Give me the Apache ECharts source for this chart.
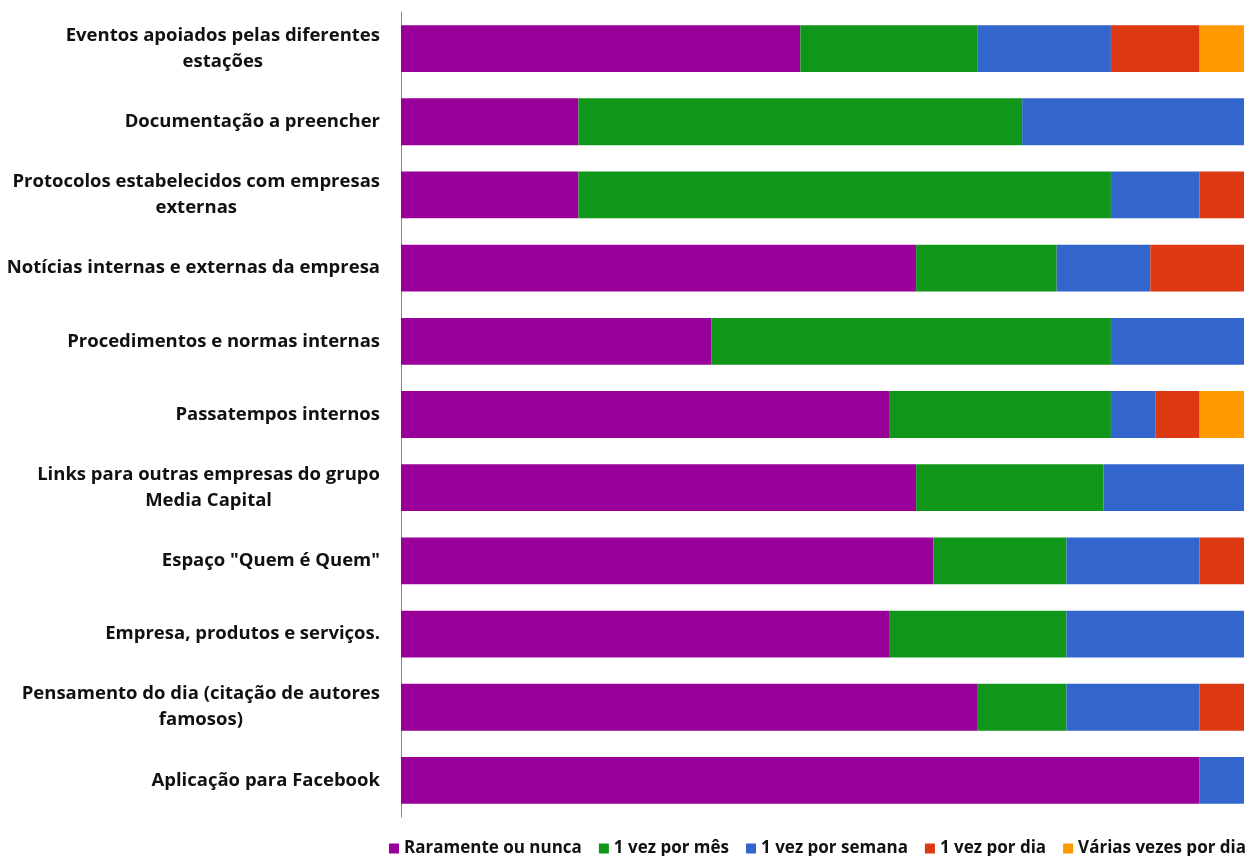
<!DOCTYPE html>
<html style="height: 100%">
<head>
    <meta charset="utf-8">
    <title>Frequência de consulta</title>
    <script src="https://cdn.jsdelivr.net/npm/echarts@6/dist/echarts.min.js"></script>
</head>
<body style="height: 100%; margin: 0; background: #fff">
<div id="chart1" style="width:1253px;height:856px"></div>
<script type="text/javascript">
    // categorias (de cima para baixo)
    var categorias = [
        'Eventos apoiados pelas diferentes\nestações',
        'Documentação a preencher',
        'Protocolos estabelecidos com empresas\nexternas',
        'Notícias internas e externas da empresa',
        'Procedimentos e normas internas',
        'Passatempos internos',
        'Links para outras empresas do grupo\nMedia Capital',
        'Espaço "Quem é Quem"',
        'Empresa, produtos e serviços.',
        'Pensamento do dia (citação de autores\nfamosos)',
        'Aplicação para Facebook'
    ];

    // nº de respostas por categoria
    var raramente = [9, 4, 4, 11, 7, 11, 11, 12, 11, 13, 18];
    var porMes    = [4, 10, 12, 3, 9, 5, 4, 3, 4, 2, 0];
    var porSemana = [3, 5, 2, 2, 3, 1, 3, 3, 4, 3, 1];
    var porDia    = [2, 0, 1, 2, 0, 1, 0, 1, 0, 1, 0];
    var variasDia = [1, 0, 0, 0, 0, 1, 0, 0, 0, 0, 0];

    var nomes = ['Raramente ou nunca', '1 vez por mês', '1 vez por semana', '1 vez por dia', 'Várias vezes por dia'];
    var cores = ['#990099', '#109618', '#3366CC', '#DC3912', '#FF9900'];
    var dados = [raramente, porMes, porSemana, porDia, variasDia];

    // totais para 100% empilhado
    var totais = categorias.map(function (c, i) {
        return dados.reduce(function (s, d) { return s + d[i]; }, 0);
    });

    var series = dados.map(function (d, k) {
        return {
            name: nomes[k],
            type: 'bar',
            stack: 'total',
            barCategoryGap: '36%',
            itemStyle: {color: cores[k]},
            data: d.map(function (v, i) { return v / totais[i] * 100; })
        };
    });

    var familia = 'Open Sans';
    var tam = 18.5;

    // medir larguras para centrar as linhas dos rótulos com duas linhas
    var ctx = document.createElement('canvas').getContext('2d');
    ctx.font = 'bold ' + tam + 'px "' + familia + '"';
    var rich = {};
    categorias.forEach(function (c, i) {
        var linhas = c.split('\n');
        var larg = linhas.map(function (l) { return ctx.measureText(l).width; });
        var max = Math.max.apply(null, larg);
        linhas.forEach(function (l, j) {
            rich['l' + i + '_' + j] = {
                fontFamily: familia, fontWeight: 'bold', fontSize: tam, lineHeight: 26, color: '#111',
                padding: [0, (max - larg[j]) / 2, 0, 0]
            };
        });
    });

    var myChart1 = echarts.init(document.getElementById('chart1'));
    myChart1.setOption({
        animation: false,
        grid: {left: 401, right: 9, top: 12, bottom: 39, containLabel: false},
        legend: {
            right: 2,
            bottom: -6,
            itemWidth: 10,
            itemHeight: 10,
            itemGap: 17,
            icon: 'rect',
            textStyle: {fontFamily: familia, fontWeight: 'bold', fontSize: 17, color: '#111'},
            data: nomes
        },
        xAxis: {
            type: 'value',
            min: 0,
            max: 100,
            show: false
        },
        yAxis: {
            type: 'category',
            inverse: true,
            data: categorias,
            axisLine: {lineStyle: {color: '#888'}},
            axisTick: {show: false},
            axisLabel: {
                margin: 21,
                align: 'right',
                fontFamily: familia,
                fontWeight: 'bold',
                fontSize: tam,
                lineHeight: 26,
                color: '#111',
                formatter: function (v, idx) {
                    return v.split('\n').map(function (l, j) {
                        return '{l' + idx + '_' + j + '|' + l + '}';
                    }).join('\n');
                },
                rich: rich
            }
        },
        series: series
    });
</script>
</body>
</html>
